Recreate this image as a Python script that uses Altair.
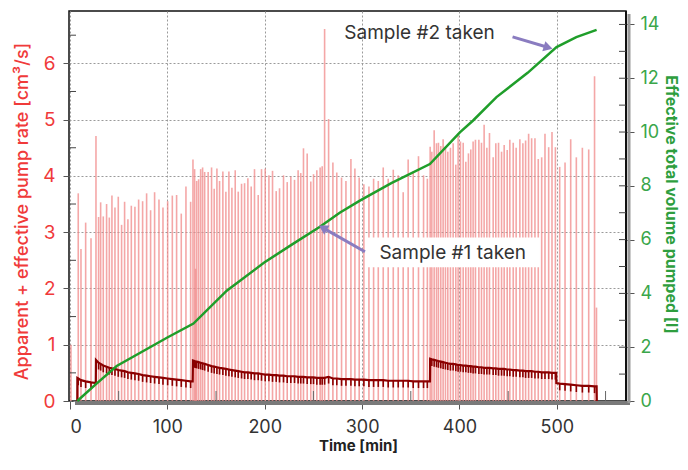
import altair as alt
import pandas as pd

FONT = "Inter"
RED = "#f03a3a"
GREEN_TXT = "#3aa64a"
GREEN_LINE = "#1f9e2a"
DARK_RED = "#8b0000"
PINK = "#f08a8a"
PURPLE = "#8a7cc0"

# (time [min], apparent rate [cm3/s], effective rate [cm3/s] or None)
seg0 = [(1.0, 1.0, None)]
seg1 = [(8.5, 3.69, 0.40), (11.3, 2.70, 0.37), (16.1, 3.17, 0.35), (21.6, 2.89, 0.33)]
seg2 = [(26.7, 4.71, 0.73), (29.4, 3.27, 0.68), (31.5, 3.53, 0.66), (34.2, 3.28, 0.63),
        (37.6, 3.50, 0.61), (40.4, 3.26, 0.59), (43.1, 3.65, 0.58), (46.2, 3.44, 0.57),
        (49.6, 3.63, 0.55), (53.0, 3.13, 0.54), (56.1, 3.54, 0.53), (59.5, 3.23, 0.51),
        (63.0, 3.47, 0.50), (66.7, 3.45, 0.49), (70.5, 3.58, 0.48), (74.6, 3.55, 0.46),
        (78.7, 3.69, 0.45), (82.8, 3.39, 0.44), (86.9, 3.71, 0.43), (91.4, 3.58, 0.42),
        (95.5, 3.44, 0.41), (100.3, 3.55, 0.40), (105.1, 3.65, 0.39), (109.5, 3.66, 0.38),
        (114.3, 3.33, 0.37), (119.1, 3.81, 0.36), (123.9, 3.54, 0.35)]
seg3 = [(126.3, 4.29, 0.72), (128.0, 4.12, 0.71), (129.0, 2.35, 0.705), (130.1, 3.91, 0.70),
        (132.1, 3.94, 0.69), (134.2, 4.12, 0.68), (136.2, 4.15, 0.67), (138.3, 4.07, 0.66),
        (141.9, 4.07, 0.64), (145.4, 4.15, 0.62), (148.1, 3.77, 0.61), (150.9, 4.13, 0.60),
        (153.6, 3.91, 0.59), (157.0, 4.08, 0.58), (160.1, 3.72, 0.57), (163.2, 4.08, 0.56),
        (166.3, 3.79, 0.55), (169.7, 4.10, 0.54), (172.8, 3.72, 0.53), (176.2, 3.86, 0.52),
        (179.3, 3.87, 0.51), (182.7, 3.96, 0.51), (186.1, 3.81, 0.50), (189.5, 4.12, 0.49),
        (193.3, 3.66, 0.49), (196.7, 4.12, 0.48), (200.5, 4.13, 0.47), (204.3, 4.01, 0.47),
        (208.0, 4.09, 0.46), (211.8, 3.73, 0.46), (215.2, 3.78, 0.45), (219.3, 4.01, 0.45),
        (223.1, 3.89, 0.44), (226.8, 3.99, 0.44), (230.6, 3.93, 0.44), (234.3, 4.10, 0.43),
        (237.0, 4.05, 0.43), (239.8, 4.49, 0.43), (243.6, 4.40, 0.42), (247.3, 3.90, 0.42),
        (250.1, 4.03, 0.42), (253.5, 4.10, 0.41), (256.9, 4.15, 0.41), (259.0, 4.17, 0.41),
        (261.5, 6.61, 0.41), (265.6, 5.01, 0.43), (270.0, 4.24, 0.40), (274.0, 4.06, 0.40),
        (278.9, 3.97, 0.39), (283.4, 3.91, 0.39), (288.5, 4.30, 0.39), (292.6, 4.13, 0.38),
        (297.0, 3.97, 0.38), (301.8, 3.85, 0.38), (307.0, 3.81, 0.37), (311.8, 3.95, 0.37),
        (316.6, 3.91, 0.37), (321.7, 4.15, 0.37), (326.8, 3.95, 0.36), (332.0, 4.11, 0.36),
        (337.1, 4.01, 0.36), (342.2, 3.71, 0.36), (347.3, 4.29, 0.36), (352.5, 4.08, 0.35),
        (357.9, 4.35, 0.35), (363.1, 4.01, 0.35), (367.0, 3.95, 0.35)]
seg4 = [(369.9, 4.52, 0.75), (371.6, 4.43, 0.74), (374.0, 4.81, 0.73), (376.4, 4.58, 0.72),
        (378.4, 4.59, 0.71), (380.8, 4.53, 0.70), (383.2, 4.65, 0.69), (385.6, 4.52, 0.68),
        (388.0, 4.43, 0.67), (390.7, 4.50, 0.66), (393.5, 4.58, 0.66), (396.2, 4.20, 0.65),
        (398.6, 4.76, 0.64), (401.0, 4.61, 0.64), (403.8, 4.59, 0.63), (406.5, 4.25, 0.63),
        (409.2, 4.40, 0.62), (411.6, 4.47, 0.62), (414.0, 4.61, 0.61), (416.4, 4.64, 0.61),
        (419.9, 4.64, 0.60), (422.6, 4.59, 0.60), (425.3, 4.91, 0.59), (428.1, 4.50, 0.59),
        (430.8, 4.76, 0.59), (434.6, 4.33, 0.58), (437.3, 4.58, 0.58), (440.1, 4.59, 0.57),
        (443.2, 4.43, 0.57), (445.9, 4.55, 0.57), (449.0, 4.46, 0.56), (451.7, 4.64, 0.56),
        (455.2, 4.59, 0.55), (458.2, 4.50, 0.55), (462.0, 4.65, 0.54), (465.1, 4.58, 0.54),
        (467.9, 4.63, 0.53), (471.0, 4.75, 0.53), (474.1, 4.67, 0.53), (477.5, 4.67, 0.52),
        (480.9, 4.30, 0.52), (484.4, 4.33, 0.51), (487.8, 4.75, 0.51), (491.6, 4.51, 0.51),
        (495.0, 4.78, 0.50), (498.5, 4.51, 0.50)]
seg5 = [(502.9, 4.16, 0.31), (508.4, 4.24, 0.30), (514.2, 4.65, 0.29), (520.0, 4.33, 0.28),
        (526.2, 4.50, 0.27), (532.7, 4.47, 0.27), (538.7, 5.77, 0.26), (540.7, 1.66, None)]

# extra vertices of the effective-rate line (pump starts / stops)
knot_t = [7.5, 7.6, 26.5, 126.0, 369.7, 499.3, 499.5, 540.8, 541.0]
knot_v = [0.0, 0.41, 0.32, 0.35, 0.35, 0.50, 0.32, 0.26, 0.0]

# effective total volume pumped [l]
vol_t = [7.5, 26.4, 48, 100, 126.8, 161, 199.5, 229, 256.7, 277, 297.7, 330, 369.6,
         400.4, 414, 438, 470, 499.7, 520, 540.8]
vol_v = [0.0, 0.62, 1.30, 2.36, 2.88, 4.10, 5.15, 5.84, 6.48, 7.0, 7.45, 8.1, 8.81,
         9.99, 10.43, 11.3, 12.2, 13.16, 13.53, 13.8]

x_ticks = [0, 100, 200, 300, 400, 500]
x_minor = [50, 150, 250, 350, 450, 550]
yl_ticks = [0, 1, 2, 3, 4, 5, 6]
yl_minor = [0.5, 1.5, 2.5, 3.5, 4.5, 5.5, 6.5]
yr_ticks = [0, 2, 4, 6, 8, 10, 12, 14]
yr_minor = list(range(1, 15))

ann_text = ["Sample #1 taken", "Sample #2 taken"]
ann_t = [393, 359]
ann_v = [5.51, 13.67]
arrow_t0 = [302.9, 454.5]
arrow_v0 = [5.55, 13.54]
arrow_t1 = [261.1, 489.6]
arrow_v1 = [6.41, 13.16]
arrow_angle = [300, 107]

W, H = 557, 390

rows = []
for seg in [seg0, seg1, seg2, seg3, seg4, seg5]:
    rows.extend(seg)
spikes = pd.DataFrame(rows, columns=["t", "apparent", "effective"])
teeth = spikes.dropna().copy()
eff_line = pd.concat([teeth[["t", "effective"]],
                      pd.DataFrame({"t": knot_t, "effective": knot_v})]).sort_values("t")
vol = pd.DataFrame({"t": vol_t, "vol": vol_v})
ann = pd.DataFrame({"text": ann_text, "t": ann_t, "v": ann_v})
arrows = pd.DataFrame({"t0": arrow_t0, "v0": arrow_v0, "t1": arrow_t1, "v1": arrow_v1,
                       "ang": arrow_angle})
box = pd.DataFrame({"t0": [304.0], "t1": [482.5], "v0": [4.97], "v1": [6.08]})

xs = alt.Scale(domain=[-1, 571], nice=False, zero=False)
yls = alt.Scale(domain=[0, 6.93], nice=False)
yrs = alt.Scale(domain=[0, 14.5], nice=False)

x_axis = alt.Axis(values=x_ticks, title="Time [min]", grid=True, gridDash=[2, 2],
                  gridColor="#9a9a9a", gridWidth=1, domain=False, tickSize=8,
                  tickColor="#555", labelFontSize=18, labelColor="#333", labelPadding=9,
                  titleFontSize=15, titleFontWeight="bold", titleColor="#222",
                  titleX=289, titleY=44, titleBaseline="middle", titleAlign="center")
yl_axis = alt.Axis(values=yl_ticks, title="Apparent + effective pump rate [cm³/s]",
                   orient="left", grid=True, gridDash=[2, 2], gridColor="#9a9a9a",
                   domain=False, tickSize=6, tickColor="#555", labelFontSize=19,
                   labelColor=RED, labelPadding=8, titleFontSize=18,
                   titleFontWeight=500, titleColor=RED, titleAngle=-90, titleX=-47,
                   titleY=200, titleAlign="center", titleBaseline="middle")
yr_axis = alt.Axis(values=yr_ticks, title="Effective total volume pumped [l]",
                   orient="right", grid=False, domain=False, tickSize=8,
                   tickColor="#555", labelFontSize=18, labelColor=GREEN_TXT,
                   labelPadding=6, titleFontSize=16, titleFontWeight="bold",
                   titleColor="#2e9e3e", titleAngle=90, titleX=44, titleY=193,
                   titleAlign="center", titleBaseline="middle")


def X(field):
    return alt.X(field, type="quantitative", scale=xs, axis=x_axis)


def YL(field):
    return alt.Y(field, type="quantitative", scale=yls, axis=yl_axis)


def YR(field):
    return alt.Y(field, type="quantitative", scale=yrs, axis=yr_axis)


spike_layer = alt.Chart(spikes).mark_rule(color=PINK, strokeWidth=1.6, opacity=0.75).encode(
    x=X("t"), y=YL("apparent"), y2=alt.datum(0))
eff_layer = alt.Chart(eff_line).mark_line(color=DARK_RED, strokeWidth=2.2).encode(
    x=X("t"), y=YL("effective"))
teeth_layer = alt.Chart(teeth).transform_calculate(low="datum.effective - 0.12").mark_rule(
    color=DARK_RED, strokeWidth=1.6).encode(x=X("t"), y=YL("effective"), y2="low:Q")
lminor = alt.Chart(pd.DataFrame({"v": yl_minor})).mark_rule(color="#444", strokeWidth=1).encode(
    y=YL("v"), x=alt.value(0), x2=alt.value(7))
xminor = alt.Chart(pd.DataFrame({"t": x_minor})).mark_rule(color="#666", strokeWidth=1).encode(
    x=X("t"), y=alt.value(H), y2=alt.value(H - 10))
bottom_shadow = alt.Chart(pd.DataFrame({"a": [0]})).mark_rule(color="#7a7a7a", strokeWidth=4).encode(
    x=alt.value(6), x2=alt.value(W + 4), y=alt.value(H + 2))
right_shadow = alt.Chart(pd.DataFrame({"a": [0]})).mark_rule(color="#9a9a9a", strokeWidth=3).encode(
    x=alt.value(W + 3), y=alt.value(3), y2=alt.value(H + 2))
right_border = alt.Chart(pd.DataFrame({"a": [0]})).mark_rule(color="#111", strokeWidth=2).encode(
    x=alt.value(W), y=alt.value(0), y2=alt.value(H))

left = alt.layer(spike_layer, eff_layer, teeth_layer, lminor, xminor,
                 bottom_shadow, right_shadow, right_border)

vol_layer = alt.Chart(vol).mark_line(color=GREEN_LINE, strokeWidth=2.5).encode(
    x=X("t"), y=YR("vol"))
box_layer = alt.Chart(box).mark_rect(color="white").encode(
    x=X("t0"), x2="t1:Q", y=YR("v0"), y2="v1:Q")
text_layer = alt.Chart(ann).mark_text(font=FONT, fontSize=19, color="#333",
                                      align="center", baseline="middle").encode(
    x=X("t"), y=YR("v"), text="text:N")
shaft_layer = alt.Chart(arrows).mark_rule(color=PURPLE, strokeWidth=3).encode(
    x=X("t0"), x2="t1:Q", y=YR("v0"), y2="v1:Q")
head_layer = alt.Chart(arrows).mark_point(shape="triangle", filled=True, color=PURPLE,
                                          size=110, opacity=1).encode(
    x=X("t1"), y=YR("v1"), angle=alt.Angle("ang:Q", scale=None))
rminor = alt.Chart(pd.DataFrame({"v": yr_minor})).mark_rule(color="#444", strokeWidth=1).encode(
    y=YR("v"), x=alt.value(W - 7), x2=alt.value(W))

right = alt.layer(vol_layer, box_layer, text_layer, shaft_layer, head_layer, rminor)

chart = alt.layer(left, right).resolve_scale(y="independent").properties(
    width=W, height=H,
    autosize=alt.AutoSizeParams(type="none"),
    padding={"left": 61, "top": 3, "right": 54, "bottom": 55},
).configure_view(stroke="#111", strokeWidth=1.5).configure_axis(
    labelFont=FONT, titleFont=FONT)

chart.save("out.html", embed_options={"renderer": "svg", "actions": False})
